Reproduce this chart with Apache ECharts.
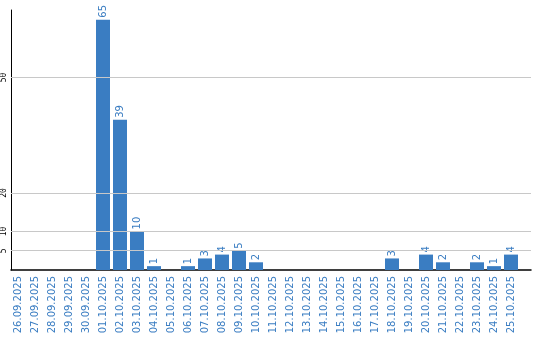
<!DOCTYPE html>
<html><head><meta charset="utf-8">
<script src="https://cdn.jsdelivr.net/npm/echarts@6/dist/echarts.min.js"></script>
<style>html,body{margin:0;padding:0;background:#fff}#c{width:540px;height:340px}</style>
</head><body><div id="c"></div>
<script>
const dates = ['26.09.2025','27.09.2025','28.09.2025','29.09.2025','30.09.2025','01.10.2025','02.10.2025','03.10.2025','04.10.2025','05.10.2025','06.10.2025','07.10.2025','08.10.2025','09.10.2025','10.10.2025','11.10.2025','12.10.2025','13.10.2025','14.10.2025','15.10.2025','16.10.2025','17.10.2025','18.10.2025','19.10.2025','20.10.2025','21.10.2025','22.10.2025','23.10.2025','24.10.2025','25.10.2025'];
const counts = [0,0,0,0,0,65,39,10,1,0,1,3,4,5,2,0,0,0,0,0,0,0,3,0,4,2,0,2,1,4];
const yTicks = [5,10,20,50];
const yMax = 67.5;
const blue = '#3a7dc2';
const chart = echarts.init(document.getElementById('c'), null, {renderer:'canvas'});
chart.setOption({
  animation:false,
  grid:[{left:10,right:9,top:10,bottom:70},{left:9.5,width:510,top:10,bottom:70}],
  xAxis:[
    {gridIndex:0,type:'value',min:0,max:1,axisLine:{show:true,onZero:false,lineStyle:{color:'#000',width:1.5}},axisTick:{show:false},axisLabel:{show:false},splitLine:{show:false}},
    {gridIndex:1,type:'category',data:dates,axisLine:{show:false},axisTick:{show:false},
     axisLabel:{interval:0,rotate:90,margin:6,color:blue,fontFamily:'DejaVu Sans',fontSize:10}}
  ],
  yAxis:[
    {gridIndex:0,type:'value',min:0,max:yMax,interval:5,axisLine:{show:true,lineStyle:{color:'#000',width:1}},axisTick:{show:false},splitLine:{show:false},
     axisLabel:{rotate:90,margin:3,color:'#000',fontFamily:'DejaVu Sans Mono',fontSize:8,formatter:v=>yTicks.includes(v)?String(v):''}},
    {gridIndex:1,type:'value',min:0,max:yMax,show:false}
  ],
  series:[
    {type:'line',xAxisIndex:0,yAxisIndex:0,data:[],z:1,
     markLine:{silent:true,symbol:['none','none'],label:{show:false},lineStyle:{color:'#c8c8c8',type:'solid',width:1},
       data:yTicks.map(v=>({yAxis:v}))}},
    {type:'bar',xAxisIndex:1,yAxisIndex:1,data:counts.map(v=>v===0?null:v),barWidth:14,z:3,
     itemStyle:{color:blue},
     label:{show:true,position:'top',distance:2,rotate:90,align:'left',verticalAlign:'middle',color:blue,fontFamily:'DejaVu Sans',fontSize:10}}
  ]
});
</script></body></html>
